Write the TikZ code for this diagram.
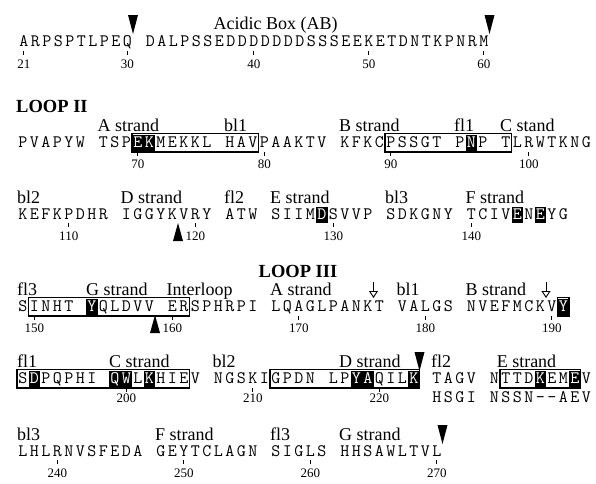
\documentclass[tikz,border=0pt]{standalone}
\usepackage{fontspec}
\setmainfont{Liberation Serif}
\usetikzlibrary{arrows.meta}

\newlength\seqpitch
\setlength\seqpitch{11.5pt}
\newcommand\seqfont{\ttfamily\fontsize{17.5pt}{17.5pt}\selectfont}
% one residue per cell: _ is a gap, ! inverts the next residue
\makeatletter
\def\seqrun#1{\seq@loop#1\relax}
\def\seq@loop#1{%
  \ifx#1\relax\let\seq@next\relax
  \else\ifx#1!\let\seq@next\seq@inv
  \else\ifx#1_\makebox[\seqpitch]{}\else\makebox[\seqpitch]{#1}\fi
    \let\seq@next\seq@loop\fi\fi
  \seq@next}
\def\seq@inv#1{{\fboxsep=0pt\colorbox{black}{\makebox[\seqpitch]{\rule[-3.5pt]{0pt}{15.5pt}\color{white}#1}}}\seq@loop}
\makeatother

\begin{document}
\begin{tikzpicture}[x=1pt, y=-1pt,
  seq/.style={anchor=base west, inner sep=0pt, font=\seqfont},
  lab/.style={anchor=base west, inner sep=0pt, font=\fontsize{18pt}{18pt}\selectfont},
  head/.style={anchor=base west, inner sep=0pt, font=\fontsize{18.5pt}{18.5pt}\selectfont\bfseries},
  num/.style={anchor=base, inner sep=0pt, font=\fontsize{13pt}{13pt}\selectfont},
  tick/.style={line width=0.7pt},
  frame/.style={line width=1.1pt},
  tri/.style={fill=black},
  cutarrow/.style={-{Triangle[open,length=7pt,width=9pt]}, line width=0.9pt},
]
  \useasboundingbox (0,0) rectangle (596,483);

  % acidic box
  \begin{scope}[shift={(18,46)}, x=\seqpitch]
    \node[lab] (abLab) at (17,-17) {Acidic Box (AB)};
    \node[seq] (seqAB) at (0,0) {\seqrun{ARPSPTLPEQ_DALPSSEDDDDDDDSSSEEKETDNTKPNRM}};
    \fill[tri] (10,-12) -- ++(-5pt,19pt) -- ++(10pt,0pt) -- cycle;
    \fill[tri] (41,-12) -- ++(-5pt,19pt) -- ++(10pt,0pt) -- cycle;
    \foreach \c/\n in {0.5/21, 9.5/30, 20.5/40, 30.5/50, 40.5/60} {
      \draw[tick] (\c,5) -- (\c,9);
      \node[num] (nAB\n) at (\c,22) {\n};
    }
  \end{scope}

  \node[head] (loopII) at (16,112) {LOOP II};

  % loop II, first line
  \begin{scope}[shift={(17,147)}, x=\seqpitch]
    \node[lab] (lA) at (7,-16) {A strand};
    \node[lab] (lbl1) at (18,-16) {bl1};
    \node[lab] (lB) at (28,-16) {B strand};
    \node[lab] (lfl1) at (38,-16) {fl1};
    \node[lab] (lC) at (42,-16) {C stand};
    \node[seq] (seqB) at (0,0) {\seqrun{PVAPYW_TSP!E!KMEKKL_HAVPAAKTV_KFKCPSSGT_P!NP_TLRWTKNG}};
    \draw[frame] (10,-13.4) rectangle (21,5);
    \draw[frame] (32,-13.4) rectangle (43,5);
    \foreach \c/\n in {10.5/70, 21.5/80, 32.5/90, 44.5/100} {
      \draw[tick] (\c,5) -- (\c,9);
      \node[num] (nB\n) at (\c,21) {\n};
    }
  \end{scope}

  % loop II, second line
  \begin{scope}[shift={(17,219)}, x=\seqpitch]
    \node[lab] (lbl2) at (0,-16) {bl2};
    \node[lab] (lD) at (9,-16) {D strand};
    \node[lab] (lfl2) at (18,-16) {fl2};
    \node[lab] (lE) at (22,-16) {E strand};
    \node[lab] (lbl3) at (32,-16) {bl3};
    \node[lab] (lF) at (39,-16) {F strand};
    \node[seq] (seqC) at (0,0) {\seqrun{KEFKPDHR_IGGYKVRY_ATW_SIIM!DSVVP_SDKGNY_TCIV!EN!EYG}};
    \fill[tri] (14,4) -- ++(-5pt,-18pt) -- ++(10pt,0pt) -- cycle;
    \foreach \c/\n in {4.5/110, 15.5/120, 27.5/130, 39.5/140} {
      \draw[tick] (\c,4) -- (\c,8);
      \node[num] (nC\n) at (\c,21) {\n};
    }
  \end{scope}

  \node[head, anchor=base] (loopIII) at (298,277) {LOOP III};

  % loop III, first line
  \begin{scope}[shift={(17,311)}, x=\seqpitch]
    \node[lab] (mfl3) at (0,-16) {fl3};
    \node[lab] (mG) at (6,-16) {G strand};
    \node[lab] (mInter) at (13,-16) {Interloop};
    \node[lab] (mA) at (22,-16) {A strand};
    \node[lab] (mbl1) at (33,-16) {bl1};
    \node[lab] (mB) at (39,-16) {B strand};
    \node[seq] (seqD) at (0,0) {\seqrun{SINHT_!YQLDVV_ERSPHRPI_LQAGLPANKT_VALGS_NVEFMCKV!Y}};
    \draw[frame] (1,-13.4) rectangle (15,5);
    \draw[frame] (47,-13.4) rectangle (48,5);
    \fill[tri] (12,4) -- ++(-5pt,-18pt) -- ++(10pt,0pt) -- cycle;
    \draw[cutarrow] (31,-29) -- (31,-13);
    \draw[cutarrow] (46,-29) -- (46,-13);
    \foreach \c/\n in {1.5/150, 13.5/160, 24.5/170, 35.5/180, 46.5/190} {
      \draw[tick] (\c,5) -- (\c,9);
      \node[num] (nD\n) at (\c,21) {\n};
    }
  \end{scope}

  % loop III, second line
  \begin{scope}[shift={(17,383)}, x=\seqpitch]
    \node[lab] (mfl1) at (0,-16) {fl1};
    \node[lab] (mC) at (8,-16) {C strand};
    \node[lab] (mbl2) at (17,-16) {bl2};
    \node[lab] (mD) at (28,-16) {D strand};
    \node[lab] (mfl2) at (36,-16) {fl2};
    \node[lab] (mE) at (41.7,-16) {E strand};
    \node[seq] (seqE) at (0,0) {\seqrun{S!DPQPHI_!Q!WL!KHIEV_NGSKIGPDN_LP!Y!AQIL!K_TAGV_NTTD!KEM!EV}};
    \node[seq] (seqEalt) at (36,19) {\seqrun{HSGI_NSSN--AEV}};
    \draw[frame] (0,-13.4) rectangle (15,5);
    \draw[frame] (22,-13.4) rectangle (35,5);
    \draw[frame] (42,-13.4) rectangle (49,5);
    \fill[tri] (35,-12) -- ++(-5pt,19pt) -- ++(10pt,0pt) -- cycle;
    \foreach \c/\n in {9.5/200, 20.5/210, 31.5/220} {
      \draw[tick] (\c,5) -- (\c,9);
      \node[num] (nE\n) at (\c,19) {\n};
    }
  \end{scope}

  % loop III, third line
  \begin{scope}[shift={(17,456)}, x=\seqpitch]
    \node[lab] (mbl3) at (0,-16) {bl3};
    \node[lab] (mF) at (12,-16) {F strand};
    \node[lab] (mfl3b) at (22,-16) {fl3};
    \node[lab] (mGb) at (28,-16) {G strand};
    \node[seq] (seqF) at (0,0) {\seqrun{LHLRNVSFEDA_GEYTCLAGN_SIGLS_HHSAWLTVL}};
    \fill[tri] (37,-12) -- ++(-5pt,19pt) -- ++(10pt,0pt) -- cycle;
    \foreach \c/\n in {3.5/240, 14.5/250, 25.5/260, 36.5/270} {
      \draw[tick] (\c,4) -- (\c,8);
      \node[num] (nF\n) at (\c,21) {\n};
    }
  \end{scope}
\end{tikzpicture}
\end{document}
